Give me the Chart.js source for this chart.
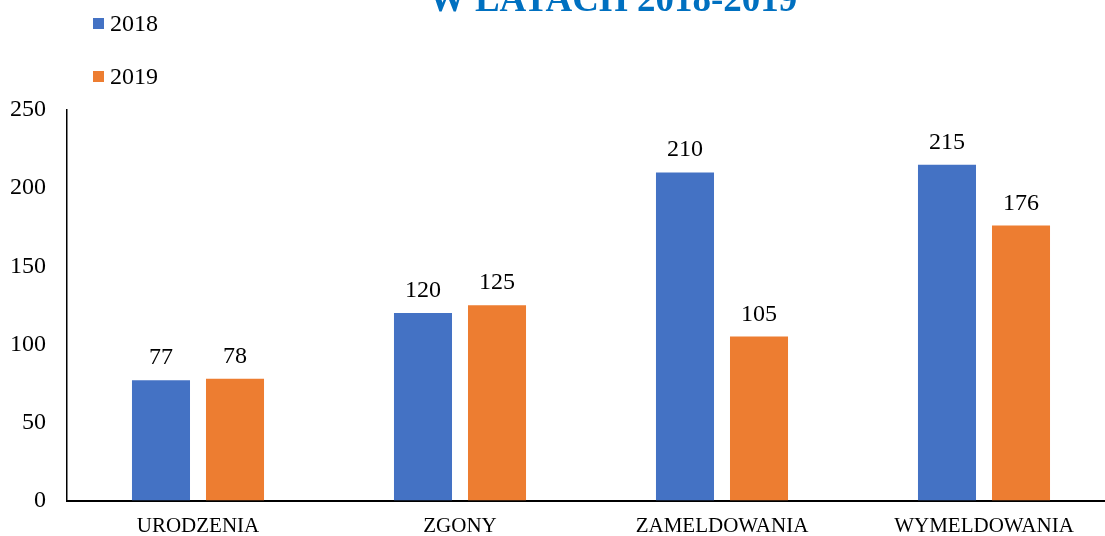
<!DOCTYPE html>
<html>
<head>
<meta charset="utf-8">
<script src="https://cdn.jsdelivr.net/npm/chart.js@4"></script>
<style>
  html, body { margin: 0; padding: 0; background: #fff; overflow: hidden; }
  #wrap { width: 1120px; height: 536px; }
</style>
</head>
<body>
<div id="wrap"><canvas id="myChart"></canvas></div>
<script>
// dane z wykresu
const categories = ["URODZENIA", "ZGONY", "ZAMELDOWANIA", "WYMELDOWANIA"];
const years = ["2018", "2019"];
const values2018 = [77, 120, 210, 215];
const values2019 = [78, 125, 105, 176];
const yTicks = [0, 50, 100, 150, 200, 250];
const titleText = "W LATACH 2018-2019";

const serif = "'Liberation Serif', 'Times New Roman', serif";

// tytul (obciety u gory) + legenda pionowa + etykiety wartosci
const extras = {
  id: "extras",
  afterDraw(chart) {
    const ctx = chart.ctx;
    ctx.save();
    ctx.fillStyle = "#0070C0";
    ctx.font = "bold 37px " + serif;
    ctx.textAlign = "center";
    ctx.textBaseline = "alphabetic";
    ctx.fillText(titleText, 613, 11);

    // legenda
    ctx.font = "24px " + serif;
    ctx.textAlign = "left";
    chart.data.datasets.forEach((ds, i) => {
      const y = 31 + i * 53;
      ctx.fillStyle = ds.backgroundColor;
      ctx.fillRect(93, y - 13, 11, 11);
      ctx.fillStyle = "#000";
      ctx.fillText(ds.label, 110, y);
    });

    // wartosci nad slupkami
    ctx.textAlign = "center";
    ctx.fillStyle = "#000";
    chart.data.datasets.forEach((ds, i) => {
      chart.getDatasetMeta(i).data.forEach((bar, j) => {
        ctx.fillText(ds.data[j], bar.x, bar.y - 16);
      });
    });
    ctx.restore();
  }
};

const ctx = document.getElementById("myChart");
new Chart(ctx, {
  type: "bar",
  data: {
    labels: categories,
    datasets: [
      { label: years[0], data: values2018, backgroundColor: "#4472C4" },
      { label: years[1], data: values2019, backgroundColor: "#ED7D31" }
    ]
  },
  options: {
    responsive: true,
    maintainAspectRatio: false,
    animation: false,
    layout: { padding: { top: 110, left: 0, right: 5, bottom: 0 } },
    datasets: {
      bar: { categoryPercentage: 0.565, barPercentage: 0.784 }
    },
    plugins: {
      legend: { display: false },
      tooltip: { enabled: false },
      title: { display: false }
    },
    scales: {
      x: {
        grid: { display: false, drawTicks: false },
        border: { color: "#000", width: 2 },
        ticks: { color: "#000", font: { family: serif, size: 21 }, padding: 13 },
        afterFit(scale) { scale.height = 34; }
      },
      y: {
        min: 0,
        max: 250,
        afterBuildTicks(scale) { scale.ticks = yTicks.map(v => ({ value: v })); },
        grid: { display: false, drawTicks: false },
        border: { color: "#000", width: 1.5 },
        ticks: { color: "#000", font: { family: serif, size: 24 }, padding: 21 },
        afterFit(scale) { scale.width = 67; }
      }
    }
  },
  plugins: [extras]
});
</script>
</body>
</html>
